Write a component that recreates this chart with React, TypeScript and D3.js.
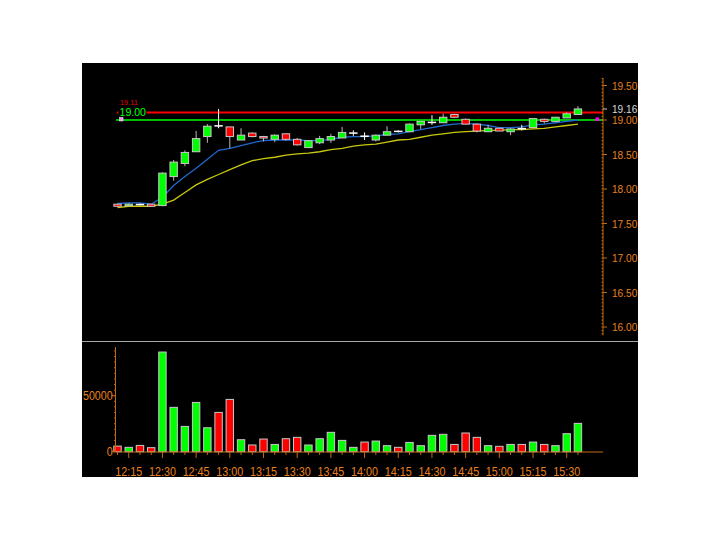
import React from 'react';
import * as d3 from 'd3';

// 5-minute bars, 12:10 .. 15:35
const times = [
  '12:10', '12:15', '12:20', '12:25', '12:30', '12:35', '12:40', '12:45', '12:50', '12:55',
  '13:00', '13:05', '13:10', '13:15', '13:20', '13:25', '13:30', '13:35', '13:40', '13:45',
  '13:50', '13:55', '14:00', '14:05', '14:10', '14:15', '14:20', '14:25', '14:30', '14:35',
  '14:40', '14:45', '14:50', '14:55', '15:00', '15:05', '15:10', '15:15', '15:20', '15:25',
  '15:30', '15:35',
];
const opens = [
  17.78, 17.76, 17.78, 17.78, 17.76, 18.18, 18.37, 18.54, 18.76, 18.92,
  18.90, 18.71, 18.81, 18.76, 18.72, 18.80, 18.72, 18.60, 18.67, 18.71,
  18.74, 18.81, 18.77, 18.71, 18.78, 18.84, 18.83, 18.93, 18.96, 18.96,
  19.08, 19.01, 18.94, 18.83, 18.88, 18.83, 18.88, 18.89, 19.01, 18.98,
  19.03, 19.08,
];
const highs = [
  17.79, 17.79, 17.79, 17.78, 18.24, 18.42, 18.56, 18.84, 18.94, 19.16,
  18.90, 18.88, 18.82, 18.77, 18.79, 18.80, 18.74, 18.71, 18.77, 18.80,
  18.90, 18.85, 18.82, 18.79, 18.91, 18.85, 18.95, 18.98, 19.07, 19.09,
  19.09, 19.02, 18.95, 18.93, 18.89, 18.88, 18.93, 19.03, 19.02, 19.04,
  19.11, 19.20,
];
const lows = [
  17.74, 17.75, 17.76, 17.74, 17.75, 18.12, 18.33, 18.54, 18.67, 18.88,
  18.59, 18.71, 18.75, 18.69, 18.68, 18.70, 18.63, 18.60, 18.65, 18.67,
  18.74, 18.77, 18.71, 18.69, 18.78, 18.82, 18.83, 18.87, 18.93, 18.96,
  19.03, 18.94, 18.82, 18.83, 18.84, 18.78, 18.85, 18.88, 18.95, 18.97,
  19.03, 19.08,
];
const closes = [
  17.75, 17.78, 17.77, 17.75, 18.23, 18.39, 18.53, 18.73, 18.91, 18.91,
  18.76, 18.78, 18.76, 18.74, 18.78, 18.72, 18.64, 18.70, 18.73, 18.76,
  18.82, 18.81, 18.76, 18.78, 18.83, 18.83, 18.94, 18.98, 18.97, 19.04,
  19.04, 18.94, 18.84, 18.88, 18.84, 18.87, 18.87, 19.02, 18.98, 19.04,
  19.09, 19.16,
];
const volumes = [
  5000, 3900, 5600, 3600, 89000, 39600, 22600, 44000, 21400, 35100,
  46700, 10700, 6000, 11300, 6500, 11600, 12800, 6000, 11600, 17300,
  10100, 3900, 8600, 9500, 5400, 3900, 8300, 5400, 14600, 15500,
  6500, 16700, 12800, 5400, 4800, 6500, 6500, 8600, 6500, 5400,
  16100, 25300,
];
const maFast = [
  17.79, 17.80, 17.80, 17.78, 17.88, 18.05, 18.18, 18.30, 18.43, 18.56,
  18.59, 18.63, 18.67, 18.70, 18.71, 18.71, 18.71, 18.70, 18.70, 18.72,
  18.75, 18.76, 18.76, 18.77, 18.79, 18.80, 18.83, 18.86, 18.89, 18.92,
  18.94, 18.95, 18.94, 18.92, 18.89, 18.89, 18.90, 18.93, 18.94, 18.96,
  18.98, 19.00,
];
const maSlow = [
  17.73, 17.75, 17.75, 17.75, 17.78, 17.84, 17.95, 18.06, 18.14, 18.21,
  18.28, 18.35, 18.41, 18.44, 18.46, 18.49, 18.51, 18.52, 18.54, 18.57,
  18.59, 18.62, 18.64, 18.65, 18.68, 18.71, 18.72, 18.75, 18.78, 18.80,
  18.82, 18.83, 18.84, 18.85, 18.85, 18.86, 18.86, 18.87, 18.88, 18.90,
  18.92, 18.94,
];
const timeLabels = [
  '12:15', '12:30', '12:45', '13:00', '13:15', '13:30', '13:45',
  '14:00', '14:15', '14:30', '14:45', '15:00', '15:15', '15:30',
];
const priceTicks = [16.0, 16.5, 17.0, 17.5, 18.0, 18.5, 19.0, 19.5];
const volumeTicks = [0, 50000];
const resistance = 19.11;
const support = 19.0;

const ORANGE = '#e8801e';
const AXIS = '#c06a10';
const UP = '#00ff00';
const DOWN = '#ff0000';
const OUTLINE = '#c8c8c8';

export default function App() {
  const x = d3
    .scaleBand<string>()
    .domain(times)
    .range([111.9, 111.9 + times.length * 11.23])
    .paddingInner(0.34)
    .paddingOuter(0.17);
  const bw = x.bandwidth();
  const cx = (t: string) => (x(t) || 0) + bw / 2;

  const yP = d3.scaleLinear().domain([15.88, 19.61]).range([335.3, 77.9]);
  const yV = d3.scaleLinear().domain([0, 93500]).range([451.7, 347]);

  const priceAxisX = 603;
  const volAxisX = 115.5;
  const plotLeft = 116;

  const maLine = d3
    .line<number>()
    .x((_, i) => cx(times[i]))
    .y((d) => yP(d));

  const priceMinor = d3.range(15.9, 19.61, 0.05);
  const volMinor = d3.range(0, 93500, 5000);
  const last = closes[closes.length - 1];

  return (
    <div style={{ position: 'fixed', left: 0, top: 0 }}>
      <svg width={720} height={540} style={{ display: 'block', fontFamily: '"Liberation Sans", Arial, sans-serif' }}>
        <rect x={0} y={0} width={720} height={540} fill="#fff" />
        <rect x={82} y={63} width={556} height={414} fill="#000" />

        {/* reference levels */}
        <line x1={117} x2={priceAxisX} y1={yP(resistance)} y2={yP(resistance)} stroke="#ff0000" strokeWidth={2} />
        <line x1={plotLeft} x2={priceAxisX} y1={yP(support)} y2={yP(support)} stroke="#00ff00" strokeWidth={1.5} />
        <rect x={118.5} y={107} width={28} height={10} fill="#000" />
        <text x={120} y={104.5} fontSize={8} fill="#e00000" textLength={18} lengthAdjust="spacingAndGlyphs">
          {resistance.toFixed(2)}
        </text>
        <text x={119.5} y={116} fontSize={10.5} fill="#00ff00" textLength={26.5} lengthAdjust="spacingAndGlyphs">
          {support.toFixed(2)}
        </text>
        <rect x={119.5} y={117.5} width={3.5} height={3.5} fill="#ff80ff" stroke="#fff" strokeWidth={0.5} />
        <rect x={595.5} y={117.5} width={3.5} height={3.5} fill="#ff00ff" />

        {/* moving averages */}
        <path d={maLine(maSlow) || ''} fill="none" stroke="#c8c810" strokeWidth={1.3} />
        <path d={maLine(maFast) || ''} fill="none" stroke="#2068d0" strokeWidth={1.3} />

        {/* candles */}
        {times.map((t, i) => {
          const o = opens[i];
          const c = closes[i];
          const up = c >= o;
          const mid = cx(t);
          const doji = Math.abs(c - o) < 0.015;
          const top = yP(Math.max(o, c));
          const bot = yP(Math.min(o, c));
          return (
            <g key={t}>
              <line x1={mid} x2={mid} y1={yP(highs[i])} y2={yP(lows[i])} stroke={doji ? '#ffffff' : '#b8b8b8'} strokeWidth={1} />
              {doji ? (
                <line x1={x(t)! - 0.5} x2={x(t)! + bw + 0.5} y1={(top + bot) / 2} y2={(top + bot) / 2} stroke="#ffffff" strokeWidth={1.5} />
              ) : (
                <rect
                  x={x(t)}
                  y={top}
                  width={bw}
                  height={Math.max(bot - top, 1.5)}
                  fill={up ? UP : DOWN}
                  stroke={OUTLINE}
                  strokeWidth={1}
                />
              )}
            </g>
          );
        })}

        {/* price axis */}
        <line x1={priceAxisX} x2={priceAxisX} y1={yP.range()[1]} y2={yP.range()[0]} stroke={AXIS} strokeWidth={1} />
        {priceMinor.map((p) => (
          <line key={'pm' + p} x1={priceAxisX - 1.5} x2={priceAxisX} y1={yP(p)} y2={yP(p)} stroke={AXIS} strokeWidth={1} />
        ))}
        {priceTicks.map((p) => (
          <g key={'pt' + p}>
            <line x1={priceAxisX} x2={priceAxisX + 4} y1={yP(p)} y2={yP(p)} stroke={AXIS} strokeWidth={1} />
            <text x={612} y={yP(p) + 4.2} fontSize={11.5} fill={ORANGE} textLength={25.3} lengthAdjust="spacingAndGlyphs">
              {p.toFixed(2)}
            </text>
          </g>
        ))}
        <line x1={priceAxisX} x2={priceAxisX + 4} y1={yP(last)} y2={yP(last)} stroke="#d0d0d0" strokeWidth={1} />
        <text x={612} y={yP(last) + 4} fontSize={11.5} fill="#d8d8d8" textLength={25.3} lengthAdjust="spacingAndGlyphs">
          {last.toFixed(2)}
        </text>

        {/* panel separator */}
        <line x1={82} x2={638} y1={341.5} y2={341.5} stroke="#a8a8a8" strokeWidth={1} />

        {/* volume bars */}
        {times.map((t, i) => (
          <rect
            key={'v' + t}
            x={x(t)}
            y={yV(volumes[i])}
            width={bw}
            height={yV(0) - yV(volumes[i])}
            fill={closes[i] >= opens[i] ? UP : DOWN}
            stroke={OUTLINE}
            strokeWidth={1}
          />
        ))}

        {/* volume axis */}
        <line x1={volAxisX} x2={volAxisX} y1={yV.range()[1]} y2={yV(0)} stroke={AXIS} strokeWidth={1} />
        {volMinor.map((v) => (
          <line key={'vm' + v} x1={volAxisX - 1.5} x2={volAxisX} y1={yV(v)} y2={yV(v)} stroke={AXIS} strokeWidth={1} />
        ))}
        {volumeTicks.map((v) => {
          const label = String(v);
          return (
            <g key={'vt' + v}>
              <line x1={volAxisX - 4} x2={volAxisX} y1={yV(v)} y2={yV(v)} stroke={AXIS} strokeWidth={1} />
              <text
                x={112.7}
                y={yV(v) + 4.5}
                fontSize={12.5}
                fill={ORANGE}
                textAnchor="end"
                textLength={label.length * 5.95}
                lengthAdjust="spacingAndGlyphs"
              >
                {label}
              </text>
            </g>
          );
        })}

        {/* time axis */}
        <line x1={plotLeft} x2={priceAxisX} y1={452} y2={452} stroke={AXIS} strokeWidth={1} />
        {times.map((t) => {
          const major = timeLabels.includes(t);
          return (
            <line key={'tt' + t} x1={cx(t)} x2={cx(t)} y1={452} y2={major ? 458 : 455} stroke={AXIS} strokeWidth={1} />
          );
        })}
        {timeLabels.map((t) => (
          <text
            key={'tl' + t}
            x={cx(t) - 13.5}
            y={475.5}
            fontSize={13.5}
            fill={ORANGE}
            textLength={27}
            lengthAdjust="spacingAndGlyphs"
          >
            {t}
          </text>
        ))}
      </svg>
    </div>
  );
}
